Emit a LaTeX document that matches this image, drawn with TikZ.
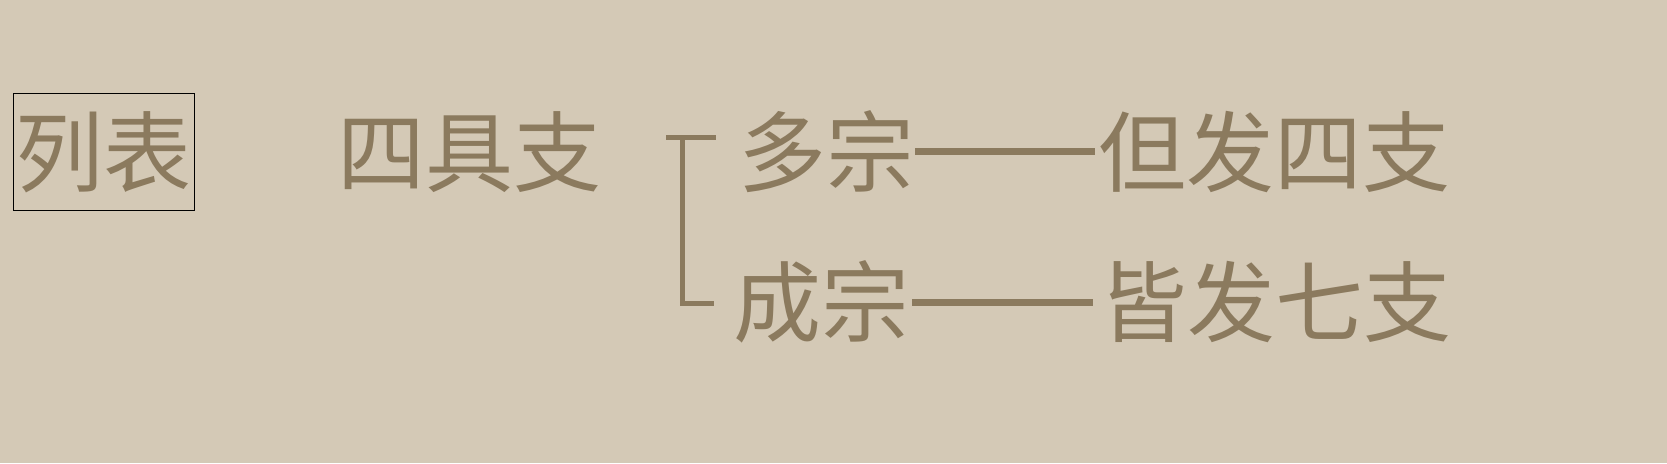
\documentclass[tikz,border=0pt]{standalone}
\usepackage{fontspec}
\newfontfamily\cjk{Noto Sans CJK SC}
\definecolor{bgcol}{RGB}{212,201,182}
\definecolor{inkcol}{RGB}{139,122,94}
\begin{document}
\begin{tikzpicture}[x=1pt,y=-1pt,
  txt/.style={inner sep=0pt, outer sep=0pt, text=inkcol,
    font=\cjk\fontsize{88pt}{88pt}\selectfont,
    text height=67pt, text depth=0pt},
  framebox/.style={draw=black, line width=1pt, minimum width=181pt, minimum height=117pt},
  dashline/.style={draw=inkcol, line width=6.5pt},
  brace/.style={draw=inkcol, line width=5pt}]
\fill[bgcol] (0,0) rectangle (1667,463);
\useasboundingbox (0,0) rectangle (1667,463);
\node[txt, framebox] (list) at (103.5,151.5) {列表};
\node[txt] (siju) at (469.5,152) {四具支};
\node[txt] (duo) at (826,151.5) {多宗};
\node[txt] (dan) at (1274.5,151.5) {但发四支};
\node[txt] (cheng) at (821.5,302) {成宗};
\node[txt] (jie) at (1275.5,302) {皆发七支};
\coordinate (tl) at (666,137.5);
\coordinate (tr) at (716,137.5);
\coordinate (vt) at (682.5,137.5);
\coordinate (vb) at (682.5,303.5);
\coordinate (bl) at (680,303.5);
\coordinate (br) at (714,303.5);
\draw[brace] (tl) -- (tr);
\draw[brace] (vt) -- (vb);
\draw[brace] (bl) -- (br);
\draw[dashline, shorten <=1pt, shorten >=3.5pt] (duo.east) -- (dan.west);
\draw[dashline, shorten <=2.5pt, shorten >=6.5pt] ([yshift=-0.5pt]cheng.east) -- ([yshift=-0.5pt]jie.west);
\end{tikzpicture}
\end{document}
